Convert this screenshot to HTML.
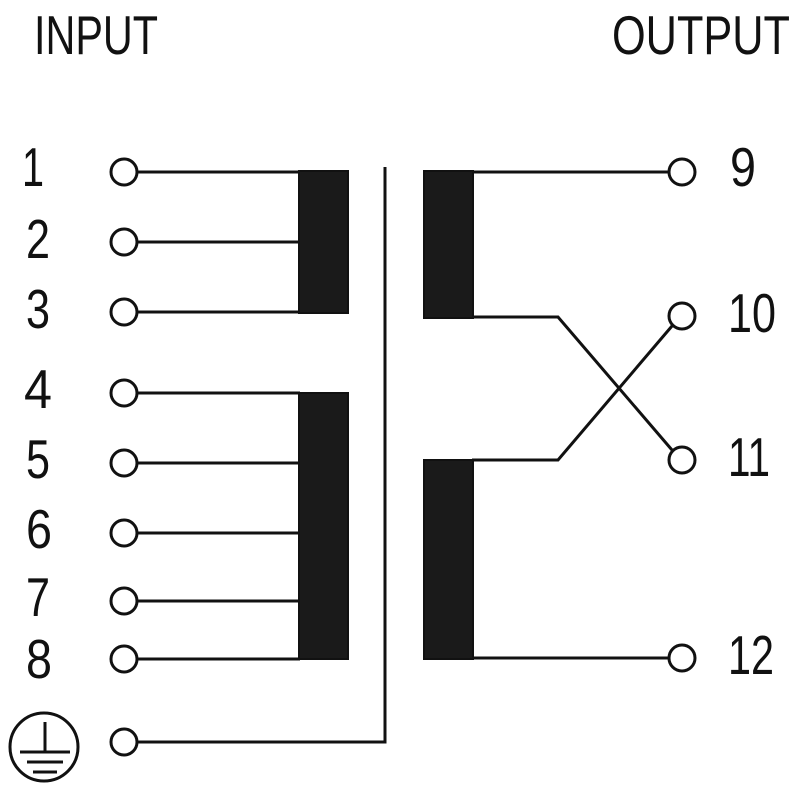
<!DOCTYPE html>
<html><head><meta charset="utf-8"><style>html,body{margin:0;padding:0;background:#fff}svg{display:block}</style></head>
<body>
<svg width="800" height="800" viewBox="0 0 800 800" xmlns="http://www.w3.org/2000/svg">
<g font-family="Liberation Sans, sans-serif" font-size="55" fill="#111">
<text x="34" y="54" textLength="124" lengthAdjust="spacingAndGlyphs">INPUT</text>
<text x="612" y="54" textLength="178" lengthAdjust="spacingAndGlyphs">OUTPUT</text>
<g font-size="55">
<text x="22" y="186" textLength="22" lengthAdjust="spacingAndGlyphs">1</text>
<text x="26" y="258" textLength="24" lengthAdjust="spacingAndGlyphs">2</text>
<text x="26" y="328" textLength="24" lengthAdjust="spacingAndGlyphs">3</text>
<text x="24" y="408" textLength="28" lengthAdjust="spacingAndGlyphs">4</text>
<text x="26" y="478" textLength="24" lengthAdjust="spacingAndGlyphs">5</text>
<text x="26" y="548" textLength="26" lengthAdjust="spacingAndGlyphs">6</text>
<text x="26" y="616" textLength="24" lengthAdjust="spacingAndGlyphs">7</text>
<text x="26" y="678" textLength="26" lengthAdjust="spacingAndGlyphs">8</text>
<text x="730" y="186" textLength="26" lengthAdjust="spacingAndGlyphs">9</text>
<text x="728" y="332" textLength="48" lengthAdjust="spacingAndGlyphs">10</text>
<text x="728" y="476" textLength="42" lengthAdjust="spacingAndGlyphs">11</text>
<text x="728" y="674" textLength="46" lengthAdjust="spacingAndGlyphs">12</text>
</g>
</g>
<g stroke="#111" stroke-width="3" fill="none">
<line x1="138" y1="172" x2="300" y2="172"/>
<line x1="138" y1="242" x2="300" y2="242"/>
<line x1="138" y1="312" x2="300" y2="312"/>
<line x1="138" y1="393" x2="300" y2="393"/>
<line x1="138" y1="463" x2="300" y2="463"/>
<line x1="138" y1="533" x2="300" y2="533"/>
<line x1="138" y1="601" x2="300" y2="601"/>
<line x1="138" y1="659" x2="300" y2="659"/>
<polyline points="138,742 385,742 385,167"/>
<line x1="472" y1="172" x2="669" y2="172"/>
<line x1="472" y1="658" x2="669" y2="658"/>
<polyline points="472,317 558,317 672,450"/>
<polyline points="472,460 558,460 672,326"/>
<circle cx="124" cy="172" r="13"/>
<circle cx="124" cy="242" r="13"/>
<circle cx="124" cy="312" r="13"/>
<circle cx="124" cy="393" r="13"/>
<circle cx="124" cy="463" r="13"/>
<circle cx="124" cy="533" r="13"/>
<circle cx="124" cy="601" r="13"/>
<circle cx="124" cy="659" r="13"/>
<circle cx="124" cy="742" r="13"/>
<circle cx="682" cy="172" r="13"/>
<circle cx="682" cy="316" r="13"/>
<circle cx="682" cy="460" r="13"/>
<circle cx="682" cy="658" r="13"/>
<circle cx="44" cy="747" r="34"/>
<line x1="45" y1="722" x2="45" y2="752"/>
<line x1="20" y1="752" x2="70" y2="752"/>
<line x1="27" y1="762" x2="63" y2="762"/>
<line x1="33" y1="772" x2="57" y2="772"/>
</g>
<g fill="#1a1a1a" stroke="#111" stroke-width="2">
<rect x="299" y="171" width="49" height="142"/>
<rect x="299" y="393" width="49" height="266"/>
<rect x="424" y="171" width="49" height="147"/>
<rect x="424" y="460" width="49" height="199"/>
</g>
</svg>
</body></html>
